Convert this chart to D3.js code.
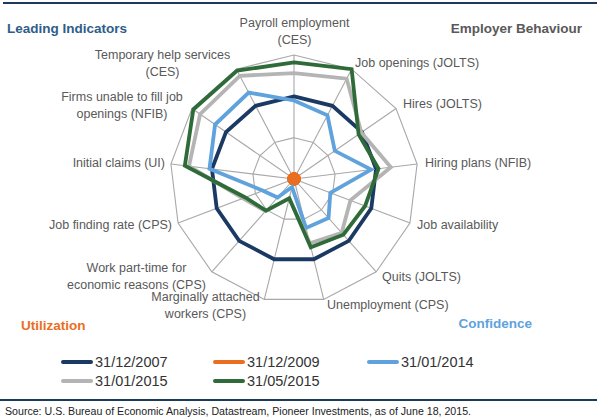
<!DOCTYPE html>
<html><head><meta charset="utf-8">
<script src="https://cdn.jsdelivr.net/npm/d3@7"></script>
<style>
body{margin:0;background:#fff}
svg{display:block}
text{font-family:"Liberation Sans",Arial,sans-serif}
</style>
</head><body>
<svg id="c" width="600" height="418"></svg>
<script>
// ---------- DATA ----------
const categories = [
  "Payroll employment\n(CES)",
  "Job openings (JOLTS)",
  "Hires (JOLTS)",
  "Hiring plans (NFIB)",
  "Job availability",
  "Quits (JOLTS)",
  "Unemployment (CPS)",
  "Marginally attached\nworkers (CPS)",
  "Work part-time for\neconomic reasons (CPS)",
  "Job finding rate (CPS)",
  "Initial claims (UI)",
  "Firms unable to fill job\nopenings (NFIB)",
  "Temporary help services\n(CES)"
];
const seriesNames = ["31/12/2007", "31/12/2009", "31/01/2014", "31/01/2015", "31/05/2015"];
const values2007  = [100, 100, 100, 100, 100, 100, 100, 100, 100, 100, 100, 100, 100];
const values2009  = [0, 0, 0, 0, 0, 0, 0, 0, 0, 0, 0, 0, 0];
const values2014  = [95, 87, 60, 94, 47, 63, 61, 10, 30, 40, 103, 116, 118];
const values2015a = [128, 137, 99, 118, 73, 87, 80, 24, 52, 66, 128, 138, 141];
const values2015b = [141, 150, 95, 103, 92, 90, 85, 24, 51, 63, 133, 148, 148];
const ringTicks = [50, 100, 150];
const groupLabels = ["Leading Indicators", "Employer Behaviour", "Utilization", "Confidence"];
const sourceText = "Source: U.S. Bureau of Economic Analysis, Datastream, Pioneer Investments, as of June 18, 2015.";

// ---------- LAYOUT / STYLE ----------
const colors = ["#1b3a63", "#ea6e1f", "#5fa2dc", "#b4b4b4", "#2f6b38"];
const cx = 294, cy = 179, R = 124;
const labelPos = [
  [294.5, 23, "middle"], [355, 63, "start"], [403, 104, "start"], [425, 163, "start"],
  [417, 225, "start"], [382, 277, "start"], [327, 305, "start"], [205.5, 297, "middle"],
  [136.5, 268, "middle"], [172, 225, "end"], [165, 163, "end"], [122, 97, "middle"],
  [162.5, 55, "middle"]
];
const groupPos = [[7, 28, "start", "#2f5d8a"], [582, 28, "end", "#595959"], [21, 325, "start", "#ea6e1f"], [532, 323, "end", "#5fa2dc"]];

const svg = d3.select("#c");
const n = categories.length;
const angle = d3.scaleLinear().domain([0, n]).range([0, 2 * Math.PI]);
const r = d3.scaleLinear().domain([0, 150]).range([0, R]);

// top & bottom rules
svg.append("line").attr("x1", 3).attr("x2", 597).attr("y1", 3).attr("y2", 3)
  .attr("stroke", "#1b3a5c").attr("stroke-width", 2);
svg.append("line").attr("x1", 0).attr("x2", 597).attr("y1", 400).attr("y2", 400)
  .attr("stroke", "#1b3a5c").attr("stroke-width", 2);

const g = svg.append("g").attr("transform", `translate(${cx},${cy})`);

// grid rings
const ringLine = d3.lineRadial().angle((d, i) => angle(i)).curve(d3.curveLinearClosed);
g.selectAll("path.ring").data(ringTicks).enter().append("path")
  .attr("class", "ring")
  .attr("d", t => ringLine.radius(() => r(t))(categories))
  .attr("fill", "none").attr("stroke", "#a8a8a8").attr("stroke-width", 1.1);

// spokes
g.selectAll("line.spoke").data(categories).enter().append("line")
  .attr("class", "spoke")
  .attr("x1", 0).attr("y1", 0)
  .attr("x2", (d, i) => d3.pointRadial(angle(i), r(150))[0])
  .attr("y2", (d, i) => d3.pointRadial(angle(i), r(150))[1])
  .attr("stroke", "#a8a8a8").attr("stroke-width", 1.1);

// series
const allSeries = [values2007, values2009, values2014, values2015a, values2015b];
const line = d3.lineRadial().angle((d, i) => angle(i)).radius(d => r(d)).curve(d3.curveLinearClosed);
allSeries.forEach((vals, si) => {
  g.append("path").attr("d", line(vals))
    .attr("fill", "none").attr("stroke", colors[si]).attr("stroke-width", 3.8)
    .attr("stroke-linejoin", "miter");
  if (d3.max(vals) === 0) {
    g.selectAll(null).data(vals).enter().append("circle")
      .attr("cx", (d, i) => d3.pointRadial(angle(i), r(d))[0])
      .attr("cy", (d, i) => d3.pointRadial(angle(i), r(d))[1])
      .attr("r", 6.5).attr("fill", colors[si]);
  }
});

// axis labels
categories.forEach((c, i) => {
  const [x, y, anchor] = labelPos[i];
  const t = svg.append("text").attr("x", x).attr("y", y).attr("text-anchor", anchor)
    .attr("font-size", 12.5).attr("fill", "#595959");
  c.split("\n").forEach((ln, k) => {
    t.append("tspan").attr("x", x).attr("y", y + k * 16.5).attr("dy", "0.35em").text(ln);
  });
});

// group labels
groupLabels.forEach((txt, i) => {
  const [x, y, anchor, col] = groupPos[i];
  svg.append("text").attr("x", x).attr("y", y).attr("dy", "0.35em").attr("text-anchor", anchor)
    .attr("font-size", 13.5).attr("font-weight", "bold").attr("fill", col).text(txt);
});

// legend
const legX = [61, 213, 367];
const legY = [362, 381];
seriesNames.forEach((name, i) => {
  const x = legX[i % 3], y = legY[Math.floor(i / 3)];
  svg.append("line").attr("x1", x + 2).attr("x2", x + 30).attr("y1", y).attr("y2", y)
    .attr("stroke", colors[i]).attr("stroke-width", 4).attr("stroke-linecap", "round");
  svg.append("text").attr("x", x + 34).attr("y", y).attr("dy", "0.36em")
    .attr("font-size", 14.5).attr("fill", "#333").text(name);
});

// source
svg.append("text").attr("x", 5).attr("y", 411).attr("dy", "0.35em")
  .attr("font-size", 11).attr("fill", "#222")
  .attr("textLength", 466).attr("lengthAdjust", "spacingAndGlyphs").text(sourceText);
</script>
</body></html>
